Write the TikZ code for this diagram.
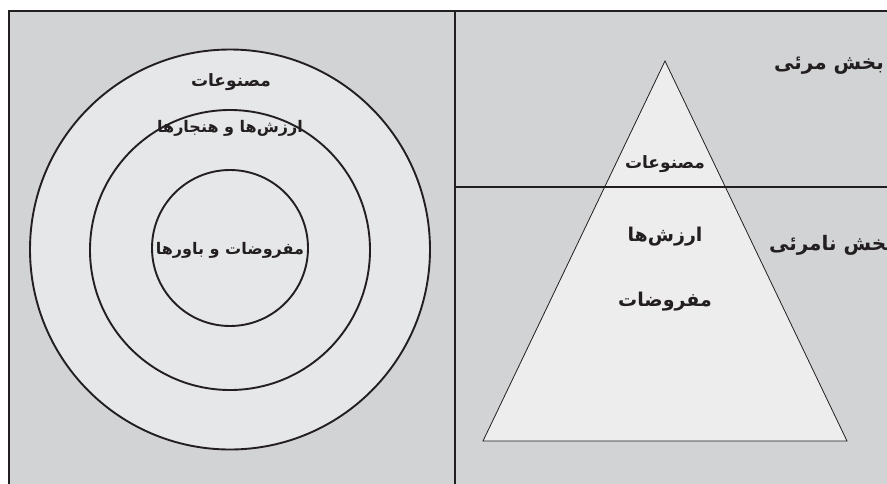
\documentclass[tikz,border=0pt]{standalone}
\usepackage{fontspec}
\newfontfamily\arabicfont[Script=Arabic]{DejaVu Sans}
\TeXXeTstate=1
\definecolor{panel}{HTML}{D1D3D4}
\definecolor{ring}{HTML}{E6E7E8}
\definecolor{tri}{HTML}{EDEDED}
\definecolor{ink}{HTML}{231F20}
\begin{document}
\begin{tikzpicture}[x=1pt,y=-1pt,
  lbl/.style={font=\arabicfont\bfseries\fontsize{17}{19}\selectfont, text=ink, inner sep=0pt},
  mid/.style={font=\arabicfont\bfseries\fontsize{16}{18}\selectfont, text=ink, inner sep=0pt},
  big/.style={font=\arabicfont\bfseries\fontsize{19}{21}\selectfont, text=ink, inner sep=0pt},
  side/.style={font=\arabicfont\bfseries\fontsize{20}{22}\selectfont, text=ink, inner sep=0pt},
  ringc/.style={circle, draw=ink, line width=1.9pt, fill=ring, inner sep=0pt}]
\useasboundingbox (0,0) rectangle (887,483);
\fill[white] (0,0) rectangle (887,483);
% panels
\fill[panel] (9,11) rectangle (900,500);
\draw[ink, line width=2.4pt] (9,500) -- (9,11) -- (900,11);
\draw[ink, line width=2.4pt] (455,11) -- (455,500);
% circles
\node[ringc, minimum size=400pt] (outer) at (230,249.5) {};
\node[ringc, minimum size=280pt] (middle) at (230,250) {};
\node[ringc, minimum size=156pt] (inner) at (230,248) {};
\node[lbl] (t1) at (231,82) {\beginR مصنوعات\endR};
\node[mid] (t2) at (230,128) {\beginR ارزش‌ها و هنجارها\endR};
\node[mid] (t3) at (230,250) {\beginR مفروضات و باورها\endR};
% triangle
\coordinate (apex) at (665,61);
\coordinate (bl) at (483,441);
\coordinate (br) at (847,441);
\filldraw[fill=tri, draw=ink, line width=0.8pt] (apex) -- (br) -- (bl) -- cycle;
\draw[ink, line width=2.4pt] (455,187) -- (900,187);
\node[lbl] (p1) at (665,164) {\beginR مصنوعات\endR};
\node[big] (p2) at (665,237) {\beginR ارزش‌ها\endR};
\node[big] (p3) at (665,302) {\beginR مفروضات\endR};
\node[side, anchor=east] (v1) at (884,66) {\beginR بخش مرئی\endR};
\node[side, anchor=east] (v2) at (894,245) {\beginR بخش نامرئی\endR};
\end{tikzpicture}
\end{document}
